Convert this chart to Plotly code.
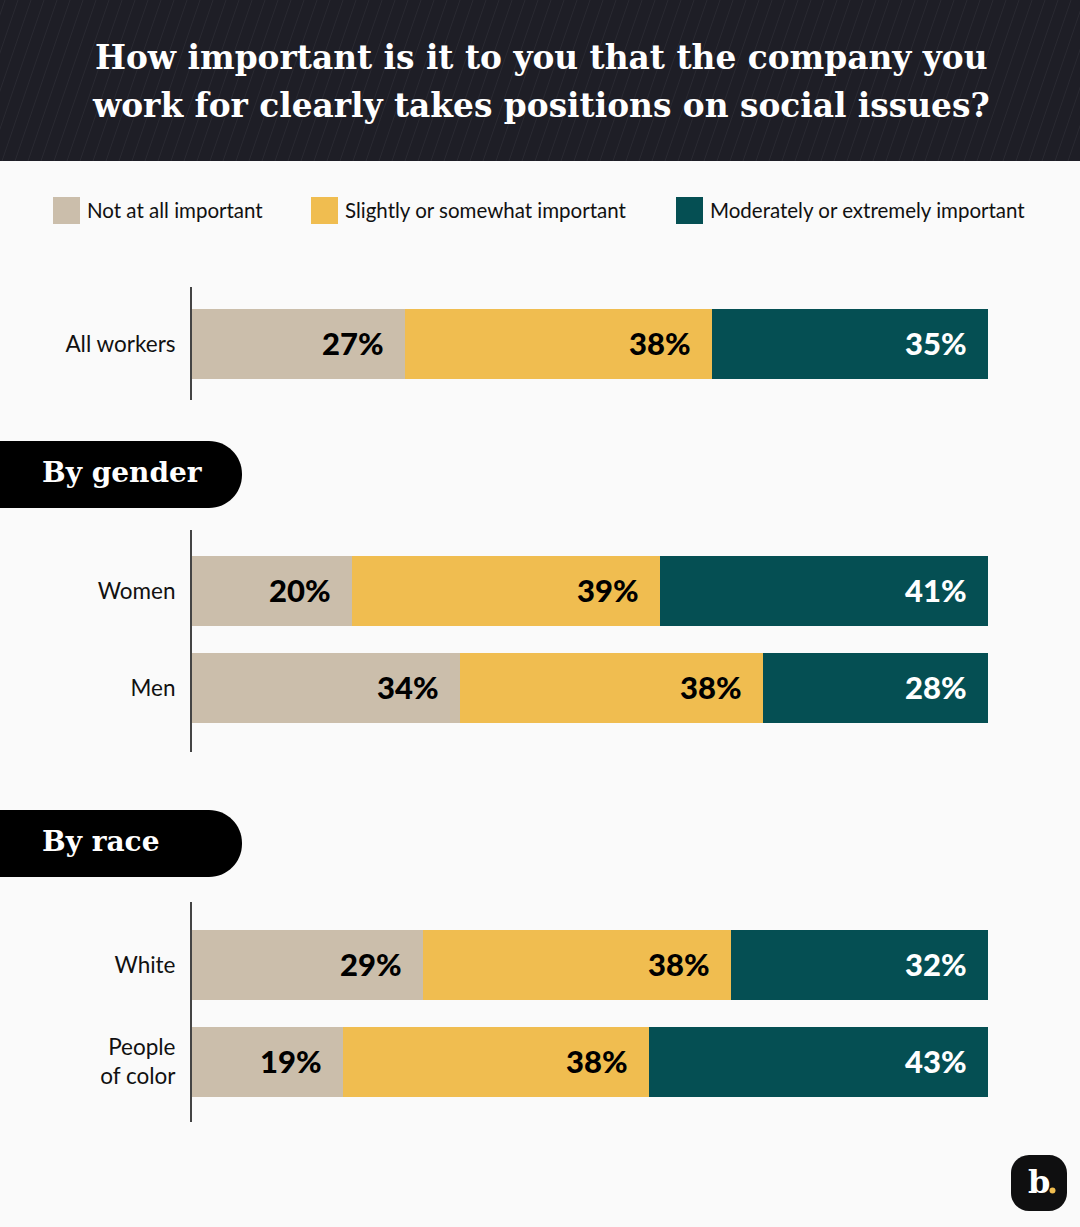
import plotly.graph_objects as go

# Share of workers per answer (labels are the printed, rounded numbers)
groups_all = ["All workers"]
not_all = [26.8]
slightly = [38.5]
moderately = [34.7]
labels_not_all = ["27%"]
labels_slightly = ["38%"]
labels_moderately = ["35%"]

groups_gender = ["Women", "Men"]
gender_not_all = [20.1, 33.7]
gender_slightly = [38.7, 38.0]
gender_moderately = [41.2, 28.3]
gender_labels_not_all = ["20%", "34%"]
gender_labels_slightly = ["39%", "38%"]
gender_labels_moderately = ["41%", "28%"]

groups_race = ["White", "People<br>of color"]
race_not_all = [29.0, 19.0]
race_slightly = [38.7, 38.4]
race_moderately = [32.3, 42.6]
race_labels_not_all = ["29%", "19%"]
race_labels_slightly = ["38%", "38%"]
race_labels_moderately = ["32%", "43%"]

answers = ["Not at all important", "Slightly or somewhat important", "Moderately or extremely important"]
title_lines = ["How important is it to you that the company you", "work for clearly takes positions on social issues?"]

TAN = "#CBBEAB"
YELLOW = "#F0BD50"
TEAL = "#054F53"
colors = [TAN, YELLOW, TEAL]
SANS = "Lato, sans-serif"
SERIF = "'DejaVu Serif', serif"
W, H = 1080, 1227
K = 0.45  # bezier inset for a round corner


def px(x):
    return x / W


def py(y):
    return 1 - y / H


def rounded_path(x0, y0, x1, y1, r_left, r_right):
    # rounded rectangle in pixels, converted to paper coordinates
    rr = r_right * K
    rl = r_left * K
    pts = [
        f"M{px(x0 + r_left)},{py(y0)}",
        f"L{px(x1 - r_right)},{py(y0)}",
        f"C{px(x1 - rr)},{py(y0)} {px(x1)},{py(y0 + rr)} {px(x1)},{py(y0 + r_right)}",
        f"L{px(x1)},{py(y1 - r_right)}",
        f"C{px(x1)},{py(y1 - rr)} {px(x1 - rr)},{py(y1)} {px(x1 - r_right)},{py(y1)}",
        f"L{px(x0 + r_left)},{py(y1)}",
    ]
    if r_left:
        pts += [
            f"C{px(x0 + rl)},{py(y1)} {px(x0)},{py(y1 - rl)} {px(x0)},{py(y1 - r_left)}",
            f"L{px(x0)},{py(y0 + r_left)}",
            f"C{px(x0)},{py(y0 + rl)} {px(x0 + rl)},{py(y0)} {px(x0 + r_left)},{py(y0)}",
        ]
    return " ".join(pts) + " Z"


panels = [
    ("y", groups_all, [not_all, slightly, moderately],
     [labels_not_all, labels_slightly, labels_moderately], (287, 400), (-0.588, 0.577)),
    ("y2", groups_gender, [gender_not_all, gender_slightly, gender_moderately],
     [gender_labels_not_all, gender_labels_slightly, gender_labels_moderately], (530, 752), (-0.629, 1.66)),
    ("y3", groups_race, [race_not_all, race_slightly, race_moderately],
     [race_labels_not_all, race_labels_slightly, race_labels_moderately], (902, 1122), (-0.649, 1.619)),
]

fig = go.Figure()
annotations = []

for yname, cats, series, labels, (top, bottom), yrange in panels:
    for i, vals in enumerate(series):
        fig.add_trace(go.Bar(
            y=cats, x=vals, name=answers[i], orientation="h", yaxis=yname, xaxis="x",
            width=0.72, marker=dict(color=colors[i], line=dict(width=0)),
            showlegend=False, hoverinfo="x+y",
        ))
    # value labels sit just inside the right end of each segment
    for c, cat in enumerate(cats):
        total = sum(s[c] for s in series)
        running = 0
        for i, s in enumerate(series):
            running += s[c]
            annotations.append(dict(
                x=running / total * 100, y=cat, xref="x", yref=yname, text=labels[i][c],
                showarrow=False, xanchor="right", yanchor="middle", xshift=-19, yshift=1,
                font=dict(family=SANS, size=31, weight=900, color="white" if i == 2 else "black"),
            ))
    axis = dict(
        domain=[py(bottom), py(top)], type="category", categoryorder="array", categoryarray=cats,
        range=[yrange[1], yrange[0]], anchor="x", showline=True, linecolor="#444444", linewidth=2,
        showgrid=False, zeroline=False, ticks="", ticklabelstandoff=10,
        tickfont=dict(family=SANS, size=22.5, color="#111111"),
    )
    fig.update_layout({"yaxis" if yname == "y" else "yaxis" + yname[1:]: axis})

shapes = [dict(type="rect", xref="paper", yref="paper", x0=0, x1=1, y0=py(161), y1=1,
               fillcolor="#1E1E26", line=dict(width=0))]

# faint diagonal hatching in the header
for x in range(-50, W + 13, 13):
    shapes.append(dict(type="line", xref="paper", yref="paper", x0=px(x), x1=px(x + 55),
                       y0=py(161), y1=py(0), line=dict(color="#2A2A32", width=1)))

for line, y in zip(title_lines, [57, 105]):
    annotations.append(dict(x=px(541), y=py(y), xref="paper", yref="paper", text=f"<b>{line}</b>",
                            showarrow=False, xanchor="center", yanchor="middle",
                            font=dict(family=SERIF, size=32.8, color="white")))

# legend
for answer, color, x0 in zip(answers, colors, [53, 311, 676]):
    shapes.append(dict(type="rect", xref="paper", yref="paper", x0=px(x0), x1=px(x0 + 27),
                       y0=py(224), y1=py(197), fillcolor=color, line=dict(width=0)))
    annotations.append(dict(x=px(x0 + 32), y=py(210), xref="paper", yref="paper", text=answer,
                            showarrow=False, xanchor="left", yanchor="middle",
                            font=dict(family=SANS, size=20.5, color="#111111")))

# section pills
for text, y0 in [("By gender", 441), ("By race", 810)]:
    shapes.append(dict(type="path", xref="paper", yref="paper", path=rounded_path(-5, y0, 242, y0 + 67, 0, 33),
                       fillcolor="#000000", line=dict(width=0)))
    annotations.append(dict(x=px(40), y=py(y0 + 31), xref="paper", yref="paper", text=f"<b>{text}</b>",
                            showarrow=False, xanchor="left", yanchor="middle",
                            font=dict(family=SERIF, size=28, color="white")))

# logo
shapes.append(dict(type="path", xref="paper", yref="paper", path=rounded_path(1011, 1155, 1067, 1211, 18, 18),
                   fillcolor="#0F0F10", line=dict(width=0)))
shapes.append(dict(type="circle", xref="paper", yref="paper", x0=px(1049.5), x1=px(1055.5),
                   y0=py(1193.5), y1=py(1187.5), fillcolor=YELLOW, line=dict(width=0)))
annotations.append(dict(x=px(1039), y=py(1182), xref="paper", yref="paper", text="<b>b</b>",
                        showarrow=False, xanchor="center", yanchor="middle",
                        font=dict(family=SERIF, size=32, color="white")))

fig.update_layout(
    width=W, height=H, margin=dict(l=0, r=0, t=0, b=0),
    paper_bgcolor="#FAFAFA", plot_bgcolor="#FAFAFA",
    barmode="stack", barnorm="percent", showlegend=False,
    xaxis=dict(domain=[px(192), px(988)], range=[0, 100], visible=False, fixedrange=True),
    shapes=shapes, annotations=annotations,
)

fig.write_html("out.html", post_script="document.body.style.margin='0';", config={"displayModeBar": False})
